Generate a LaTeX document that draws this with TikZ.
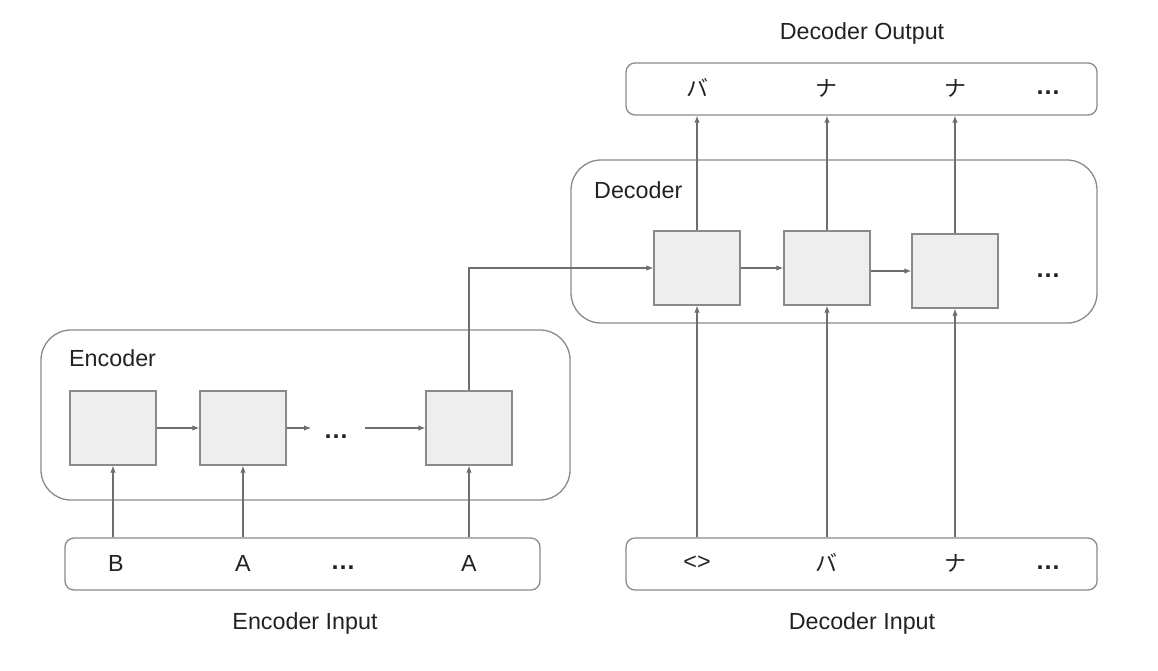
\documentclass[tikz,border=0pt]{standalone}
\usepackage{fontspec}
\setmainfont{Liberation Sans}
\newfontfamily\jpfont{Noto Sans CJK JP}
\usetikzlibrary{arrows.meta}
\definecolor{linegray}{HTML}{6E6E6E}
\definecolor{boxgray}{HTML}{8A8A8A}
\definecolor{cellfill}{HTML}{EEEEEE}
\definecolor{textdark}{HTML}{222222}
\tikzset{
  txt/.style={font=\fontsize{23.3}{27}\selectfont, text=textdark, inner sep=0pt},
  jp/.style={font=\fontsize{22}{26}\selectfont\jpfont, text=textdark, inner sep=0pt},
  dotsym/.style={font=\fontsize{25}{28}\selectfont\bfseries, text=textdark, inner sep=0pt},
  container/.style={draw=boxgray, line width=1.3pt, rounded corners=30pt},
  strip/.style={draw=boxgray, line width=1.3pt, rounded corners=9pt},
  cell/.style={draw=boxgray, fill=cellfill, line width=1.3pt, minimum width=86pt, minimum height=74pt, inner sep=0pt},
  arr/.style={draw=linegray, line width=1.1pt, -{Latex[length=7pt,width=5.5pt]}},
}
\begin{document}
\begin{tikzpicture}[x=1pt,y=-1pt]
\useasboundingbox (0,0) rectangle (1158,670);

% containers and token strips
\draw[container] (41,330) rectangle (570,500);
\draw[container] (571,160) rectangle (1097,323);
\node[strip, minimum width=475pt, minimum height=52pt, inner sep=0pt] (ein) at (302.5,564) {};
\node[strip, minimum width=471pt, minimum height=52pt, inner sep=0pt] (din) at (861.5,564) {};
\node[strip, minimum width=471pt, minimum height=52pt, inner sep=0pt] (dout) at (861.5,89) {};

% titles
\node[txt] (ttlencin) at (305,623) {Encoder Input};
\node[txt] (ttldecin) at (862,623) {Decoder Input};
\node[txt] (ttldecout) at (862,33) {Decoder Output};
\node[txt, anchor=west] (lblenc) at (69,358) {Encoder};
\node[txt, anchor=west] (lbldec) at (594,190) {Decoder};

% encoder cells
\node[cell] (e1) at (113,428) {};
\node[cell] (e2) at (243,428) {};
\node[cell] (e4) at (469,428) {};
\node[dotsym] (edots) at (336,437) {…};
\coordinate (ea) at (311,428);
\coordinate (eb) at (416,428);
\coordinate (ec) at (365,428);

% decoder cells
\node[cell] (d1) at (697,268) {};
\node[cell] (d2) at (827,268) {};
\node[cell] (d3) at (955,271) {};
\node[dotsym] (ddots) at (1048,276) {…};

% encoder input tokens
\node[txt] (ib) at (116,563) {B};
\node[txt] (ia1) at (243,563) {A};
\node[dotsym] (idots) at (343,568) {…};
\node[txt] (ia2) at (469,563) {A};

% decoder input tokens
\node[txt] (dstart) at (697,563) {<>};
\node[jp] (dba) at (826,563) {バ};
\node[jp] (dna) at (955,563) {ナ};
\node[dotsym] (dindots) at (1048,568) {…};

% decoder output tokens
\node[jp] (oba) at (697,88) {バ};
\node[jp] (ona1) at (826,88) {ナ};
\node[jp] (ona2) at (955,88) {ナ};
\node[dotsym] (odots) at (1048,93) {…};

% encoder recurrence
\draw[arr] (e1.east) -- (e2.west);
\draw[arr] (e2.east) -- (ea);
\draw[arr] (ec) -- (e4.west);

% encoder inputs
\draw[arr] (e1 |- ein.north) -- (e1.south);
\draw[arr] (e2 |- ein.north) -- (e2.south);
\draw[arr] (e4 |- ein.north) -- (e4.south);

% context vector to decoder
\draw[arr] (e4.north) |- (d1.west);

% decoder recurrence
\draw[arr] (d1.east) -- (d2.west);
\draw[arr] (d2.east |- d3.west) -- (d3.west);

% decoder inputs
\draw[arr] (d1 |- din.north) -- (d1.south);
\draw[arr] (d2 |- din.north) -- (d2.south);
\draw[arr] (d3 |- din.north) -- (d3.south);

% decoder outputs
\draw[arr] (d1.north) -- (d1 |- dout.south);
\draw[arr] (d2.north) -- (d2 |- dout.south);
\draw[arr] (d3.north) -- (d3 |- dout.south);
\end{tikzpicture}
\end{document}
